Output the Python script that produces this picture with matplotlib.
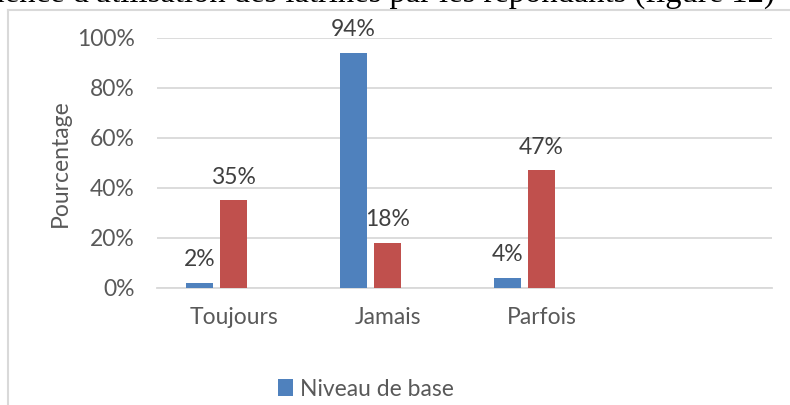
import numpy as np
import matplotlib
matplotlib.use("Agg")
import matplotlib.pyplot as plt
from matplotlib.patches import Patch
from matplotlib.lines import Line2D

# data
categories = ["Toujours", "Jamais", "Parfois", ""]
niveau_base = [2, 94, 4, None]
second_serie = [35, 18, 47, None]
legend_labels = ["Niveau de base"]
y_ticks = [0, 20, 40, 60, 80, 100]

BLUE = "#4F81BD"
RED = "#C0504D"
GRID = "#D9D9D9"
TXT = "#595959"
FONT = "Lato"
FS = 16.5

W, H = 790, 405
fig = plt.figure(figsize=(W / 100, H / 100), dpi=100)
fig.patch.set_facecolor("white")

# axes placed to match the reference pixel box
left, right, top, bottom = 157, 772, 37.5, 288
ax = fig.add_axes([left / W, 1 - bottom / H, (right - left) / W, (bottom - top) / H])

x = np.arange(len(categories))
width = 0.176
step = 0.222

for vals, color, off in [(niveau_base, BLUE, -step), (second_serie, RED, 0.0)]:
    for xi, v in zip(x, vals):
        if v is None:
            continue
        ax.bar(xi + off, v, width=width, color=color, zorder=3)
        ax.annotate(f"{v}%", (xi + off, v), xytext=(0, 9), textcoords="offset points",
                    ha="center", va="bottom", fontsize=FS, color="#404040", family=FONT)

ax.set_xlim(-0.5, len(categories) - 0.5)
ax.set_ylim(0, 100)
ax.set_yticks(y_ticks)
ax.set_yticklabels([f"{t}%" for t in y_ticks])
ax.set_xticks(x)
ax.set_xticklabels(categories)
ax.grid(axis="y", color=GRID, linewidth=1.3, zorder=0)
ax.tick_params(length=0, labelsize=FS, labelcolor=TXT)
ax.tick_params(axis="y", pad=16)
ax.tick_params(axis="x", pad=14)
for lab in ax.get_xticklabels() + ax.get_yticklabels():
    lab.set_family(FONT)
for s in ["top", "right", "left"]:
    ax.spines[s].set_visible(False)
ax.spines["bottom"].set_color(GRID)
ax.spines["bottom"].set_linewidth(1.3)
ax.set_facecolor("none")

fig.text(60 / W, 1 - 163 / H, "Pourcentage", rotation=90, ha="center", va="center",
         fontsize=FS, color=TXT, family=FONT)

# legend (only the first series is listed)
handles = [Patch(facecolor=BLUE)]
fig.legend(handles, legend_labels, loc="center", bbox_to_anchor=(366 / W, 1 - 389 / H),
           frameon=False, handlelength=0.65, handleheight=0.8, handletextpad=0.3,
           prop={"family": FONT, "size": FS}, labelcolor=TXT)

# chart frame (left and top edges visible)
fig.add_artist(Line2D([8 / W, 8 / W], [0, 1 - 9.5 / H], transform=fig.transFigure,
                      color=GRID, linewidth=1.5))
fig.add_artist(Line2D([8 / W, 1], [1 - 9.5 / H, 1 - 9.5 / H], transform=fig.transFigure,
                      color=GRID, linewidth=1.5))

# document text cut off above the chart
fig.text(775 / W, 1 - 2 / H, "fréquence d'utilisation des latrines par les répondants (figure 12)",
         ha="right", va="baseline", fontsize=23.5, family="Liberation Serif", color="black")

fig.savefig("out.png", dpi=100, facecolor="white")
